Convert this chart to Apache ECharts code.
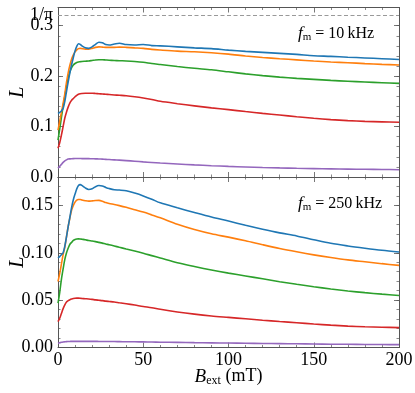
<!DOCTYPE html>
<html><head><meta charset="utf-8">
<script src="https://cdn.jsdelivr.net/npm/echarts@6/dist/echarts.min.js"></script>
<style>html,body{margin:0;padding:0;background:#fff}#c{width:415px;height:393px}</style>
</head><body><div id="c"></div>
<script>
const B = [0,1,2,3,4,5,6,7,8,9,10,11,12,13,14,16,18,20,22,24,26,28,30,33,36,40,45,50,55,60,70,80,90,100,110,120,130,140,150,160,170,180,190,200];
const top1 = [0.126,0.128,0.131,0.136,0.150,0.170,0.189,0.207,0.223,0.237,0.250,0.259,0.264,0.263,0.260,0.256,0.255,0.258,0.263,0.267,0.266,0.2625,0.2618,0.2635,0.265,0.2625,0.2618,0.2628,0.2605,0.260,0.258,0.256,0.2545,0.2515,0.249,0.247,0.245,0.243,0.2405,0.2392,0.2375,0.236,0.2345,0.233];
const top2 = [0.093,0.110,0.128,0.146,0.165,0.188,0.207,0.222,0.234,0.242,0.248,0.252,0.2545,0.255,0.2545,0.2535,0.2535,0.255,0.257,0.258,0.2575,0.257,0.257,0.257,0.2575,0.257,0.256,0.255,0.253,0.2517,0.2495,0.2482,0.2462,0.2435,0.2400,0.237,0.2345,0.2322,0.230,0.228,0.2265,0.2248,0.2233,0.2219];
const top3 = [0.073,0.095,0.118,0.140,0.160,0.180,0.197,0.209,0.217,0.222,0.225,0.227,0.228,0.2285,0.229,0.2295,0.230,0.231,0.232,0.2325,0.2325,0.232,0.2315,0.231,0.2305,0.230,0.229,0.2275,0.225,0.223,0.219,0.2155,0.2125,0.2085,0.2045,0.201,0.198,0.1955,0.1935,0.1915,0.1898,0.1882,0.1868,0.1855];
const top4 = [0.057,0.068,0.083,0.100,0.117,0.129,0.139,0.147,0.152,0.1556,0.159,0.162,0.164,0.165,0.1656,0.166,0.166,0.166,0.1656,0.165,0.1645,0.164,0.1635,0.1627,0.162,0.161,0.159,0.1565,0.1535,0.150,0.1453,0.141,0.137,0.1335,0.1298,0.1262,0.1228,0.1195,0.1165,0.1138,0.1118,0.1103,0.1093,0.1085];
const top5 = [0.0175,0.021,0.025,0.029,0.032,0.034,0.0355,0.036,0.0363,0.0365,0.0366,0.0366,0.0366,0.0366,0.0365,0.0365,0.0364,0.0362,0.036,0.0357,0.0354,0.035,0.0346,0.034,0.0334,0.0325,0.0313,0.0300,0.0288,0.0277,0.0258,0.024,0.0224,0.021,0.0198,0.0188,0.018,0.0173,0.0167,0.0162,0.0157,0.0153,0.0149,0.0145];
const bot1 = [0.0945,0.096,0.098,0.100,0.107,0.117,0.128,0.138,0.148,0.156,0.162,0.1675,0.171,0.172,0.1712,0.1685,0.1668,0.1675,0.1698,0.171,0.1705,0.169,0.1678,0.1665,0.1662,0.1655,0.163,0.160,0.1565,0.1527,0.1475,0.1425,0.1377,0.1335,0.129,0.1248,0.121,0.1178,0.1138,0.1100,0.1072,0.1048,0.1026,0.1008];
const bot2 = [0.0697,0.078,0.088,0.098,0.106,0.117,0.128,0.137,0.145,0.150,0.1535,0.1555,0.1562,0.1563,0.1558,0.155,0.1545,0.1548,0.1552,0.1553,0.1545,0.153,0.152,0.151,0.1498,0.148,0.1455,0.143,0.140,0.1369,0.1300,0.1245,0.1200,0.1165,0.1127,0.1085,0.1045,0.101,0.0978,0.0950,0.0925,0.0905,0.0885,0.0867];
const bot3 = [0.0468,0.058,0.072,0.083,0.093,0.100,0.105,0.109,0.111,0.113,0.114,0.1145,0.1147,0.1146,0.1143,0.1137,0.113,0.1125,0.1118,0.111,0.1102,0.1093,0.1085,0.1072,0.1058,0.104,0.1018,0.0995,0.097,0.0945,0.0895,0.0855,0.0818,0.0785,0.0755,0.0725,0.0695,0.0668,0.0642,0.0618,0.0597,0.0579,0.0563,0.0549];
const bot4 = [0.0273,0.031,0.036,0.041,0.045,0.048,0.0495,0.0505,0.0512,0.0517,0.052,0.0521,0.0521,0.052,0.0518,0.0515,0.0512,0.0508,0.0503,0.0499,0.0495,0.049,0.0486,0.048,0.0472,0.0462,0.0448,0.0433,0.042,0.0403,0.0375,0.0352,0.0333,0.0318,0.0303,0.0288,0.0274,0.0262,0.0248,0.0236,0.0226,0.0219,0.0214,0.021];
const bot5 = [0.0045,0.005,0.0055,0.0058,0.006,0.0062,0.0063,0.0064,0.0065,0.0065,0.0065,0.0065,0.0065,0.0065,0.0065,0.0065,0.0065,0.0065,0.0065,0.0064,0.0064,0.0064,0.0063,0.0063,0.0062,0.0061,0.006,0.0059,0.0058,0.0056,0.0054,0.0051,0.0049,0.0047,0.0045,0.0043,0.0041,0.0039,0.0037,0.0035,0.0034,0.0032,0.0031,0.003];
const xTicks = [0,50,100,150,200];
const INV_PI = 1/Math.PI;
const colors = ['#1f77b4','#ff7f0e','#2ca02c','#d62728','#9467bd'];

const FONT = 'Liberation Serif';
const AX = '#555';
const chart = echarts.init(document.getElementById('c'), null, {renderer:'canvas'});

function xAx(grid, pos, labels, name){
  return {
    type:'value', gridIndex:grid, position:pos, min:0, max:200, interval:50,
    axisLine:{show:true, onZero:false, lineStyle:{color:AX, width:1}},
    axisTick:{show:true, inside:true, length:5, lineStyle:{color:AX, width:0.8}},
    minorTick:{show:true, splitNumber:5, length:2.5, lineStyle:{color:AX, width:0.7}},
    splitLine:{show:false},
    axisLabel:{show:labels, margin:4, color:'#000', fontFamily:FONT, fontSize:18,
      formatter:(v)=> xTicks.indexOf(v)>=0 ? String(v) : ''},
    name: name || '', nameLocation:'middle', nameGap:19, nameMoveOverlap:false,
    nameTextStyle:{color:'#000', fontFamily:FONT, fontSize:18,
      rich:{i:{fontStyle:'italic', fontFamily:FONT, fontSize:19, color:'#000'},
            s:{fontFamily:FONT, fontSize:12, padding:[8,0,0,0], color:'#000'},
            n:{fontFamily:FONT, fontSize:18, color:'#000'}}}
  };
}
function yAx(grid, pos, max, interval, major, labels, name, digits){
  return {
    type:'value', gridIndex:grid, position:pos, min:0, max:max, interval:interval,
    axisLine:{show:true, onZero:false, lineStyle:{color:AX, width:1}},
    axisTick:{show:true, inside:true, length: major?5:2.5, lineStyle:{color:AX, width: major?0.8:0.7}},
    splitLine:{show:false},
    axisLabel:{show:labels, margin:5, color:'#000', fontFamily:FONT, fontSize:18,
      showMaxLabel:true,
      formatter:(v)=>{ const k=v/interval; return Math.abs(k-Math.round(k))<1e-6 ? v.toFixed(digits) : ''; }},
    name: name||'', nameLocation:'middle', nameGap:30, nameRotate:90, nameMoveOverlap:false,
    nameTextStyle:{color:'#000', fontFamily:FONT, fontSize:20, fontStyle:'italic'}
  };
}

const xAxes = [
  xAx(0,'bottom',false), xAx(0,'top',false),
  xAx(1,'bottom',true,'{i|B}{s|ext}{n| (mT)}'), xAx(1,'top',false)
];
const yAxes = [
  yAx(0,'left',0.336,0.1,true,true,'L',1),
  yAx(0,'right',0.336,0.1,true,false,'',1),
  yAx(0,'left',0.336,0.02,false,false,'',2),
  yAx(0,'right',0.336,0.02,false,false,'',2),
  yAx(1,'left',0.18,0.05,true,true,'L',2),
  yAx(1,'right',0.18,0.05,true,false,'',2),
  yAx(1,'left',0.18,0.01,false,false,'',2),
  yAx(1,'right',0.18,0.01,false,false,'',2)
];

function mk(vals, ci, xi, yi, extra){
  return Object.assign({
    type:'line', xAxisIndex:xi, yAxisIndex:yi, showSymbol:false, symbol:'none',
    smooth:0.3, data: B.map((b,i)=>[b, vals[i]]),
    lineStyle:{color:colors[ci], width:1.6}, itemStyle:{color:colors[ci]},
    z: 5-ci, animation:false
  }, extra||{});
}

const series = [
  mk(top1,0,0,0,{markLine:{silent:true, symbol:['none','none'], animation:false,
     data:[{yAxis:INV_PI}],
     lineStyle:{type:[4,2.5], color:'#999', width:1.2},
     label:{show:true, position:'start', formatter:'1/π', distance:5, color:'#000',
            fontFamily:FONT, fontSize:18, padding:[0,0,8,0]}}}),
  mk(top2,1,0,0), mk(top3,2,0,0), mk(top4,3,0,0), mk(top5,4,0,0),
  mk(bot1,0,2,4), mk(bot2,1,2,4), mk(bot3,2,2,4), mk(bot4,3,2,4), mk(bot5,4,2,4)
];

const annRich = {
  i:{fontStyle:'italic', fontFamily:FONT, fontSize:17, fill:'#000'},
  s:{fontFamily:FONT, fontSize:11, padding:[7,0,0,0], fill:'#000'},
  n:{fontFamily:FONT, fontSize:16, fill:'#000'}
};

chart.setOption({
  animation:false,
  textStyle:{fontFamily:FONT},
  grid:[
    {left:58, right:16, top:7.5, height:169.5, containLabel:false, outerBoundsMode:'none'},
    {left:58, right:16, top:177, height:170.5, containLabel:false, outerBoundsMode:'none'}
  ],
  xAxis:xAxes, yAxis:yAxes, series:series,
  graphic:[
    {type:'text', left:298, top:25, style:{text:'{i|f}{s|m}{n| = 10\u2009kHz}', rich:annRich}},
    {type:'text', left:298, top:195, style:{text:'{i|f}{s|m}{n| = 250\u2009kHz}', rich:annRich}}
  ]
});
</script></body></html>
